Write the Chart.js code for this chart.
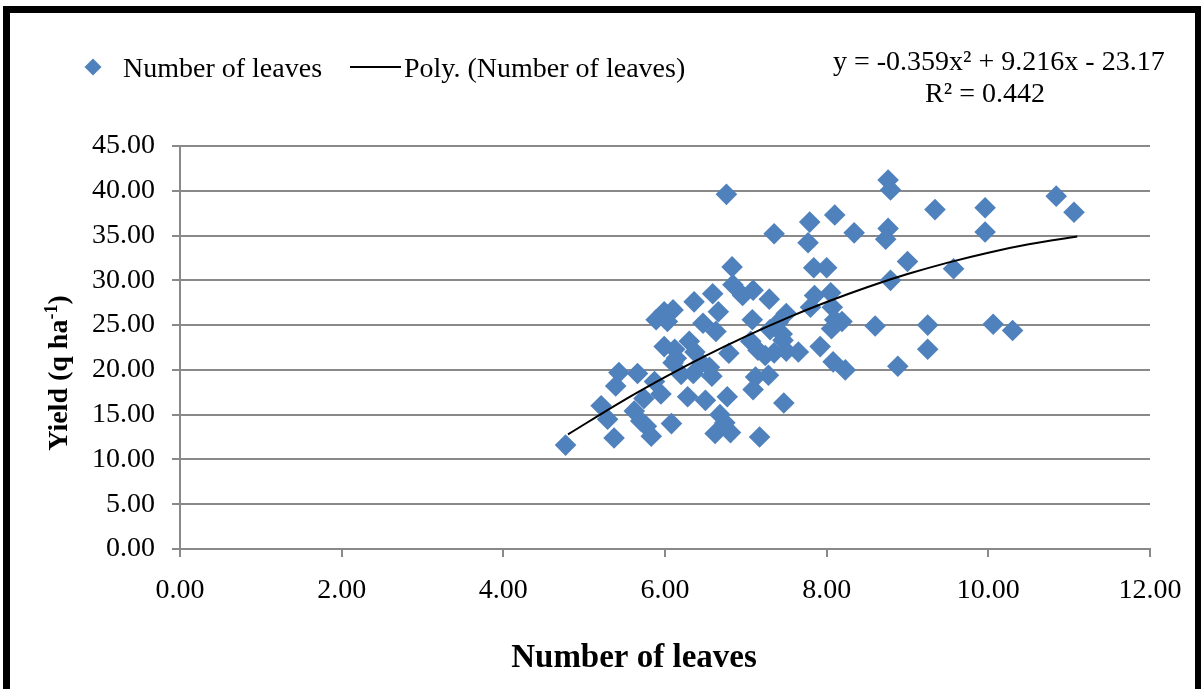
<!DOCTYPE html>
<html><head><meta charset="utf-8">
<script src="https://cdn.jsdelivr.net/npm/chart.js@4.4.0/dist/chart.umd.min.js"></script>
<style>html,body{margin:0;padding:0;background:#fff;}#wrap{width:1202px;height:689px;position:relative;}</style>
</head><body><div id="wrap"><canvas id="c" width="1202" height="689"></canvas></div>
<script>
// Scatter data: number of leaves (x) vs yield (y)
const leavesX = [4.77,5.21,5.29,5.37,5.39,5.43,5.62,5.66,5.70,5.77,5.83,5.74,5.87,5.95,6.08,5.89,5.99,6.10,6.03,5.99,
  6.12,6.14,6.10,6.20,6.30,6.37,6.36,6.59,6.84,6.96,6.66,6.47,6.63,6.79,6.35,6.45,6.55,6.58,6.28,6.50,
  6.77,6.68,6.74,6.62,6.81,7.17,6.76,7.79,8.10,7.35,7.77,8.34,8.76,8.79,8.76,8.73,6.83,7.84,8.00,8.79,
  7.09,7.29,7.85,8.05,7.50,7.80,8.07,7.08,7.30,7.40,7.45,7.46,8.10,8.19,8.06,8.60,7.06,7.15,7.24,7.35,
  7.50,7.65,7.92,8.08,8.23,8.88,7.12,7.28,7.09,7.47,9.34,9.96,10.84,11.06,9.96,9.00,9.57,9.25,10.06,10.30,9.25];
const yieldY = [11.6,16.0,14.5,12.4,18.2,19.7,15.4,19.6,14.3,13.7,12.6,16.8,18.7,17.3,14.0,25.6,26.5,26.7,25.4,22.6,
  22.3,21.3,20.8,19.5,23.2,22.0,27.6,28.5,29.5,28.3,26.5,25.2,24.3,21.85,19.6,20.8,20.3,19.3,17.0,16.6,
  17.0,15.0,14.1,12.9,13.0,12.5,39.6,36.5,37.3,35.2,34.2,35.3,41.2,40.1,35.8,34.6,31.5,31.4,31.4,30.0,
  28.9,27.9,28.3,28.6,26.3,27.0,27.0,25.6,24.5,25.3,24.0,23.3,25.6,25.4,24.6,24.9,23.2,22.2,21.6,21.9,
  22.1,22.0,22.6,20.9,20.0,20.4,19.2,19.4,17.8,16.3,37.9,38.1,39.4,37.6,35.4,32.1,31.3,25.0,25.1,24.4,22.3];
// Polynomial trend line
const trendX = [4.8,5.5,6.0,6.5,7.0,7.5,8.0,8.5,9.0,9.5,10.0,10.5,11.1];
const trendY = [12.80,16.66,19.20,21.57,23.75,25.76,27.58,29.23,30.70,31.98,33.09,34.02,34.89];
const seriesNames = ['Number of leaves','Poly. (Number of leaves)'];
const equationLines = ['y = -0.359x\u00B2 + 9.216x - 23.17','R\u00B2 = 0.442'];
const xTitleText = 'Number of leaves';
const yTitleParts = ['Yield (q ha','-1',')'];
const xRange = [0,12,2];
const yRange = [0,45,5];

const FONT = "'Liberation Serif','Times New Roman',serif";
const BLUE = '#4F81BD';
const GRID = '#898989';

const decor = {
  id:'decor',
  afterDraw(chart){
    const ctx = chart.ctx;
    ctx.save();
    // outer frame
    ctx.fillStyle = '#000';
    ctx.fillRect(3,6,7,683);
    ctx.fillRect(3,6,1198,7);
    ctx.fillRect(1195,6,6,683);
    // legend
    ctx.fillStyle = BLUE;
    ctx.beginPath();
    const r = 8.5, lx = 93, ly = 67;
    ctx.moveTo(lx-r,ly); ctx.lineTo(lx,ly-r); ctx.lineTo(lx+r,ly); ctx.lineTo(lx,ly+r); ctx.closePath(); ctx.fill();
    ctx.fillStyle = '#000';
    ctx.font = '28px ' + FONT;
    ctx.textBaseline = 'alphabetic';
    ctx.textAlign = 'left';
    ctx.fillText(seriesNames[0], 123, 77);
    ctx.strokeStyle = '#000'; ctx.lineWidth = 2;
    ctx.beginPath(); ctx.moveTo(350,67); ctx.lineTo(401,67); ctx.stroke();
    ctx.fillText(seriesNames[1], 404, 77);
    // equation
    ctx.fillText(equationLines[0], 833, 70);
    ctx.textAlign = 'center';
    ctx.fillText(equationLines[1], 985, 102);
    // x title
    ctx.font = 'bold 33px ' + FONT;
    ctx.fillText(xTitleText, 634, 667);
    // y title with superscript
    ctx.translate(67, 373);
    ctx.rotate(-Math.PI/2);
    ctx.textAlign = 'left';
    const fMain = 'bold 28px ' + FONT, fSup = 'bold 18px ' + FONT;
    ctx.font = fMain; const w1 = ctx.measureText(yTitleParts[0]).width, w3 = ctx.measureText(yTitleParts[2]).width;
    ctx.font = fSup; const w2 = ctx.measureText(yTitleParts[1]).width;
    let sx = -(w1+w2+w3)/2;
    ctx.font = fMain; ctx.fillText(yTitleParts[0], sx, 0); sx += w1;
    ctx.font = fSup; ctx.fillText(yTitleParts[1], sx, -10); sx += w2;
    ctx.font = fMain; ctx.fillText(yTitleParts[2], sx, 0);
    ctx.restore();
  }
};

new Chart(document.getElementById('c'), {
  data: {
    datasets: [
      { type:'line', label: seriesNames[1], data: trendX.map((x,i)=>({x, y:trendY[i]})),
        borderColor:'#000', borderWidth:2, pointRadius:0, fill:false, cubicInterpolationMode:'monotone', order:1 },
      { type:'scatter', label: seriesNames[0], data: leavesX.map((x,i)=>({x, y:yieldY[i]})),
        pointStyle:'rectRot', pointRadius:10.8, backgroundColor:BLUE, borderColor:BLUE, borderWidth:0, order:2 }
    ]
  },
  options: {
    responsive:false, animation:false,
    layout:{ padding:{ left:0, right:52, top:146, bottom:0 } },
    plugins:{ legend:{display:false}, tooltip:{enabled:false} },
    scales:{
      x:{ type:'linear', position:'bottom', min:xRange[0], max:xRange[1],
        ticks:{ stepSize:xRange[2], callback:v=>Number(v).toFixed(2), font:{family:FONT,size:28}, color:'#000', padding:17, maxRotation:0 },
        grid:{ drawOnChartArea:false, drawTicks:true, tickLength:8, color:GRID, lineWidth:2 },
        border:{ display:true, color:GRID, width:2 },
        afterFit:s=>{ s.height = 140; } },
      y:{ type:'linear', min:yRange[0], max:yRange[1],
        ticks:{ stepSize:yRange[2], callback:v=>Number(v).toFixed(2), font:{family:FONT,size:28}, color:'#000', padding:17 },
        grid:{ drawTicks:true, tickLength:8, color:GRID, lineWidth:2 },
        border:{ display:true, color:GRID, width:2 },
        afterFit:s=>{ s.width = 180; } }
    }
  },
  plugins:[decor]
});
</script></body></html>
